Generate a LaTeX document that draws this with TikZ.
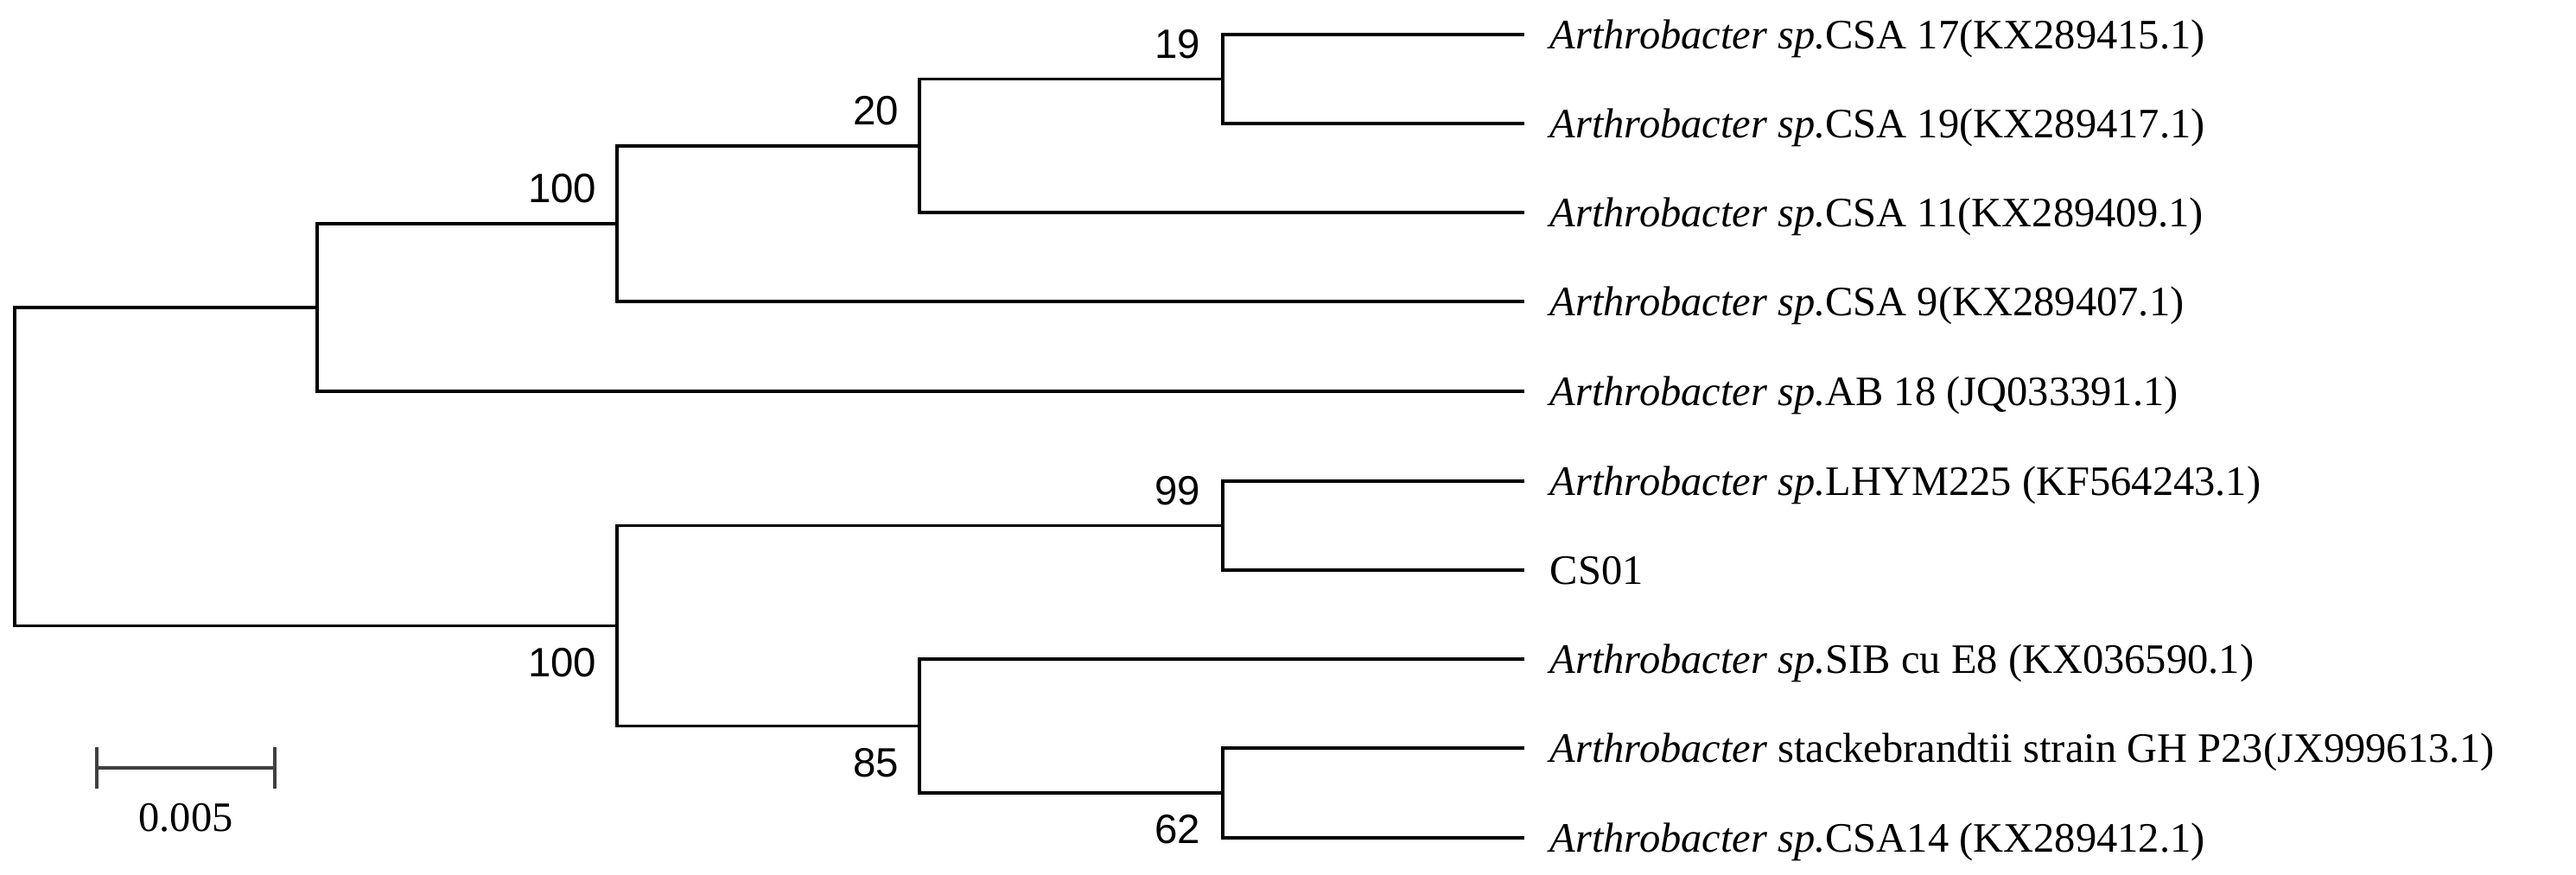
\documentclass[tikz,border=0pt]{standalone}
\usepackage{fontspec}
\setmainfont{Liberation Serif}
\newfontfamily\bootfont{Liberation Sans}
\usetikzlibrary{positioning}

\begin{document}
\begin{tikzpicture}[
	branch/.style={line width=1.1pt,black},
	leaf/.style={inner sep=0pt,text height=9.1pt,text depth=0pt,font=\fontsize{13.8}{16}\selectfont},
	boot/.style={inner sep=0pt,font=\bootfont\fontsize{13.5}{16}\selectfont},
	scalebar/.style={line width=1.1pt,black!75},
	]
	\useasboundingbox (0,0) rectangle (29.81,-10.12);
	% inner nodes
	\coordinate (r) at (0.17,-5.402);
	\coordinate (n1) at (3.67,-3.559);
	\coordinate (n2) at (7.14,-2.589);
	\coordinate (n3) at (10.64,-1.688);
	\coordinate (n4) at (14.15,-0.915);
	\coordinate (n5) at (7.14,-7.245);
	\coordinate (n6) at (14.15,-6.085);
	\coordinate (n7) at (10.64,-8.405);
	\coordinate (n8) at (14.15,-9.18);
	% leaf ends
	\coordinate (e1) at (17.64,-0.40);
	\coordinate (e2) at (17.64,-1.43);
	\coordinate (e3) at (17.64,-2.46);
	\coordinate (e4) at (17.64,-3.49);
	\coordinate (e5) at (17.64,-4.53);
	\coordinate (e6) at (17.64,-5.57);
	\coordinate (e7) at (17.64,-6.60);
	\coordinate (e8) at (17.64,-7.63);
	\coordinate (e9) at (17.64,-8.66);
	\coordinate (e10) at (17.64,-9.70);
	\draw[branch] (r) |- (n1);
	\draw[branch] (r) |- (n5);
	\draw[branch] (n1) |- (n2);
	\draw[branch] (n1) |- (e5);
	\draw[branch] (n2) |- (n3);
	\draw[branch] (n2) |- (e4);
	\draw[branch] (n3) |- (n4);
	\draw[branch] (n3) |- (e3);
	\draw[branch] (n4) |- (e1);
	\draw[branch] (n4) |- (e2);
	\draw[branch] (n5) |- (n6);
	\draw[branch] (n5) |- (n7);
	\draw[branch] (n6) |- (e6);
	\draw[branch] (n6) |- (e7);
	\draw[branch] (n7) |- (e8);
	\draw[branch] (n7) |- (n8);
	\draw[branch] (n8) |- (e9);
	\draw[branch] (n8) |- (e10);
	% taxa
	\node[leaf,right=0.29cm of e1] (t1) {\itshape Arthrobacter sp.\upshape CSA 17(KX289415.1)};
	\node[leaf,right=0.29cm of e2] (t2) {\itshape Arthrobacter sp.\upshape CSA 19(KX289417.1)};
	\node[leaf,right=0.29cm of e3] (t3) {\itshape Arthrobacter sp.\upshape CSA 11(KX289409.1)};
	\node[leaf,right=0.29cm of e4] (t4) {\itshape Arthrobacter sp.\upshape CSA 9(KX289407.1)};
	\node[leaf,right=0.29cm of e5] (t5) {\itshape Arthrobacter sp.\upshape AB 18 (JQ033391.1)};
	\node[leaf,right=0.29cm of e6] (t6) {\itshape Arthrobacter sp.\upshape LHYM225 (KF564243.1)};
	\node[leaf,right=0.29cm of e7] (t7) {CS01};
	\node[leaf,right=0.29cm of e8] (t8) {\itshape Arthrobacter sp.\upshape SIB cu E8 (KX036590.1)};
	\node[leaf,right=0.29cm of e9] (t9) {\itshape Arthrobacter\upshape\ stackebrandtii strain GH P23(JX999613.1)};
	\node[leaf,right=0.29cm of e10] (t10) {\itshape Arthrobacter sp.\upshape CSA14 (KX289412.1)};
	% bootstrap values
	\node[boot,above left=0.23cm and 0.23cm of n2] (b2) {100};
	\node[boot,above left=0.23cm and 0.23cm of n3] (b3) {20};
	\node[boot,above left=0.23cm and 0.25cm of n4] (b4) {19};
	\node[boot,below left=0.25cm and 0.23cm of n5] (b5) {100};
	\node[boot,above left=0.23cm and 0.25cm of n6] (b6) {99};
	\node[boot,below left=0.25cm and 0.23cm of n7] (b7) {85};
	\node[boot,below left=0.25cm and 0.25cm of n8] (b8) {62};
	% scale bar
	\coordinate (s1) at (1.12,-8.89);
	\coordinate (s2) at (3.18,-8.89);
	\draw[scalebar] (s1) -- (s2);
	\draw[scalebar] ([yshift=0.24cm]s1) -- ([yshift=-0.24cm]s1);
	\draw[scalebar] ([yshift=0.24cm]s2) -- ([yshift=-0.24cm]s2);
	\node[leaf] (sl) at (2.15,-9.46) {0.005};
\end{tikzpicture}
\end{document}
